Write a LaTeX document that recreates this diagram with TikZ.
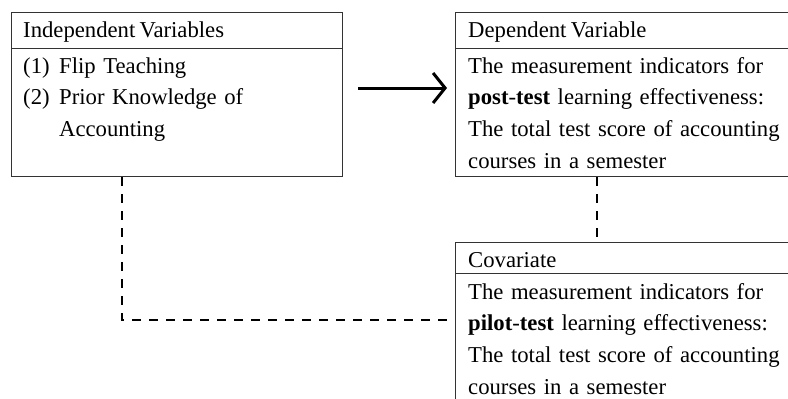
\documentclass[tikz,border=0pt]{standalone}
\usepackage{fontspec}
\setmainfont[WordSpace=0.75]{Liberation Serif}
\usetikzlibrary{arrows.meta}
\usetikzlibrary{positioning}
\def\topstrut{\rule{0pt}{20pt}}

\begin{document}
\begin{tikzpicture}[x=1pt,y=-1pt,
			box/.style={draw=black!80,line width=1.1pt,rectangle,inner sep=0pt,anchor=north west},
			label/.style={inner sep=0pt,anchor=base west,font=\fontsize{22.7}{31.7}\selectfont},
			para/.style={inner sep=0pt,anchor=north west,align=left,text width=330pt,font=\fontsize{22.7}{31.7}\selectfont},
			linkdash/.style={line width=2pt,dash pattern=on 9pt off 8pt},
			mainarrow/.style={line width=3pt,-{Straight Barb[length=12pt,width=30pt,line width=3pt]}}]
			\clip (0,0) rectangle (788,399);
			\useasboundingbox (0,0) rectangle (788,399);
			
			% boxes
			\node[box,minimum width=331pt,minimum height=36pt] (indephead) at (11,12) {};
			\node[box,minimum width=331pt,minimum height=128pt] (indepbody) at (11,48) {};
			\node[box,minimum width=345pt,minimum height=36pt] (dephead) at (455,12) {};
			\node[box,minimum width=345pt,minimum height=128pt] (depbody) at (455,48) {};
			\node[box,minimum width=345pt,minimum height=31pt] (covhead) at (455,242) {};
			\node[box,minimum width=345pt,minimum height=150pt] (covbody) at (455,273) {};
			
			% texts
			\node[label] (indeptitle) at (23,37) {Independent Variables};
			\node[para] (indeptext) at (23,53) {\topstrut\makebox[36pt][l]{(1)}Flip Teaching\\
				\makebox[36pt][l]{(2)}Prior Knowledge of\\
				\hspace*{36pt}Accounting};
			\node[label] (deptitle) at (468,37) {Dependent Variable};
			\node[para] (deptext) at (468,53) {\topstrut The measurement indicators for\\
				\textbf{post}-\textbf{test} learning effectiveness:\\
				The total test score of accounting\\
				courses in a semester};
			\node[label] (covtitle) at (468,267) {Covariate};
			\node[para] (covtext) at (468,279) {\topstrut The measurement indicators for\\
				\textbf{pilot}-\textbf{test} learning effectiveness:\\
				The total test score of accounting\\
				courses in a semester};
			
			% links
			\coordinate (arrowrow) at (0,88);
			\coordinate (deplink) at (597,0);
			\coordinate (covlink) at (122,320);
			\draw[mainarrow] ([xshift=15pt]indepbody.east |- arrowrow) -- ([xshift=-8pt]depbody.west |- arrowrow);
			\draw[linkdash] (depbody.south -| deplink) -- (covhead.north -| deplink);
			\draw[linkdash] (indepbody.south -| covlink) -- (covlink) -- ([xshift=-3pt]covlink -| covbody.west);
\end{tikzpicture}
\end{document}
